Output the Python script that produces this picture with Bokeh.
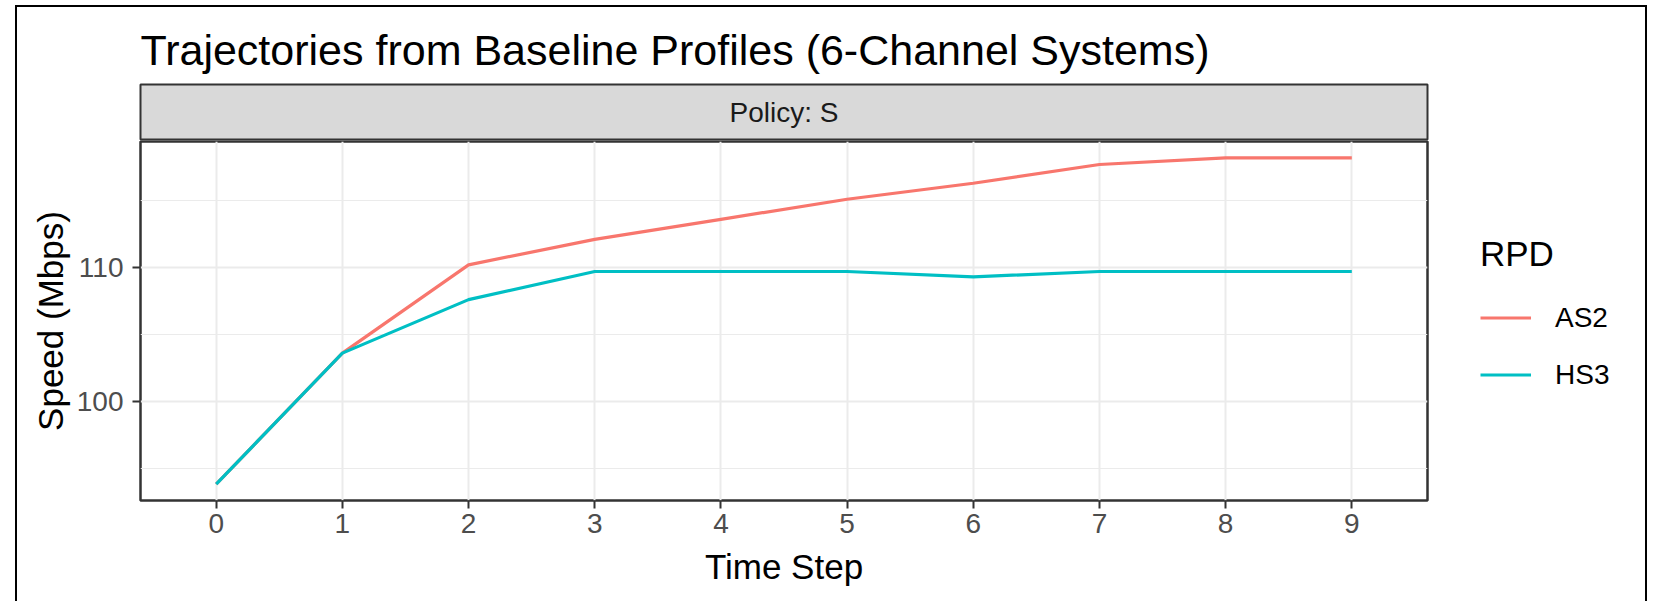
from bokeh.plotting import figure
from bokeh.layouts import column
from bokeh.models import (FixedTicker, Label, Legend, LegendItem, Range1d,
                          ColumnDataSource)
from bokeh.embed import file_html
from bokeh.resources import INLINE

# ---- data -------------------------------------------------------------
steps = [0, 1, 2, 3, 4, 5, 6, 7, 8, 9]
as2_speed = [93.8, 103.6, 110.2, 112.1, 113.6, 115.1, 116.3, 117.7, 118.2, 118.2]
hs3_speed = [93.8, 103.6, 107.6, 109.7, 109.7, 109.7, 109.3, 109.7, 109.7, 109.7]
series_names = ["AS2", "HS3"]
series_colors = ["#F8766D", "#00BFC4"]
x_ticks = steps
y_major_ticks = [100, 110]
y_minor_ticks = [95, 105, 115]

title_text = "Trajectories from Baseline Profiles (6-Channel Systems)"
strip_text = "Policy: S"
legend_title = "RPD"

FONT = "Liberation Sans"

# y limits with 5% padding around the data; discrete-style padding on x
all_vals = as2_speed + hs3_speed
span = max(all_vals) - min(all_vals)
y_lo = min(all_vals) - 0.05 * span
y_hi = max(all_vals) + 0.05 * span
x_range = Range1d(min(steps) - 0.6, max(steps) + 0.6)

W = 1657
ML, MR = 140, 230
FRAME_W = W - ML - MR

# ---- title + facet strip ------------------------------------------------
top = figure(frame_width=FRAME_W, frame_height=56,
             output_backend="svg", toolbar_location=None,
             x_range=x_range, y_range=Range1d(0, 1),
             x_axis_type=None, y_axis_type=None,
             min_border_left=ML, min_border_right=MR,
             min_border_top=84, min_border_bottom=0)
top.grid.visible = False
top.background_fill_color = "#D9D9D9"
top.border_fill_color = None
top.outline_line_color = "#333333"
top.outline_line_width = 2
top.title.text = title_text
top.title.align = "left"
top.title.text_font = FONT
top.title.text_font_size = "43px"
top.title.text_font_style = "normal"
top.title.text_color = "black"
top.title.standoff = 22
top.title.offset = 0
top.add_layout(Label(x=(min(steps) + max(steps)) / 2, y=0.5, text=strip_text,
                     text_font=FONT, text_font_size="28px", text_color="#1A1A1A",
                     text_align="center", text_baseline="middle"))

# ---- main panel ---------------------------------------------------------
p = figure(frame_width=FRAME_W, frame_height=359,
           output_backend="svg", toolbar_location=None,
           x_range=x_range, y_range=Range1d(y_lo, y_hi),
           min_border_left=ML, min_border_right=MR,
           min_border_top=1, min_border_bottom=101)
p.background_fill_color = "white"
p.border_fill_color = None
p.outline_line_color = "#333333"
p.outline_line_width = 2.5

# grid
p.xgrid.ticker = FixedTicker(ticks=x_ticks)
p.ygrid.ticker = FixedTicker(ticks=y_major_ticks, minor_ticks=y_minor_ticks)
for g in (p.xgrid, p.ygrid):
    g.grid_line_color = "#EBEBEB"
    g.grid_line_width = 2
p.ygrid.minor_grid_line_color = "#EBEBEB"
p.ygrid.minor_grid_line_width = 1.2

# axes
p.xaxis.ticker = FixedTicker(ticks=x_ticks)
p.yaxis.ticker = FixedTicker(ticks=y_major_ticks, minor_ticks=y_minor_ticks)
for ax in (p.xaxis, p.yaxis):
    ax.axis_line_color = None
    ax.major_tick_line_color = "#333333"
    ax.major_tick_line_width = 2
    ax.major_tick_out = 8
    ax.major_tick_in = 0
    ax.minor_tick_line_color = None
    ax.major_label_text_font = FONT
    ax.major_label_text_font_size = "28px"
    ax.major_label_text_color = "#4D4D4D"
    ax.axis_label_text_font = FONT
    ax.axis_label_text_font_size = "35px"
    ax.axis_label_text_font_style = "normal"
    ax.axis_label_text_color = "black"
p.xaxis.axis_label = "Time Step"
p.yaxis.axis_label = "Speed (Mbps)"
p.xaxis.major_label_standoff = 5
p.xaxis.axis_label_standoff = 11
p.yaxis.major_label_standoff = 9
p.yaxis.axis_label_standoff = 4

# lines
renderers = []
for name, vals, col in zip(series_names, [as2_speed, hs3_speed], series_colors):
    src = ColumnDataSource(dict(x=steps, y=vals))
    renderers.append(p.line("x", "y", source=src, line_color=col, line_width=3.2))

# legend in the right-hand margin
legend = Legend(items=[LegendItem(label=n, renderers=[r]) for n, r in zip(series_names, renderers)],
                location=(53, 97), orientation="vertical",
                title=legend_title, title_text_font=FONT, title_text_font_size="35px",
                title_text_font_style="normal", title_text_color="black",
                title_standoff=15,
                border_line_color=None, background_fill_alpha=0,
                padding=0, margin=0, spacing=0,
                glyph_width=51, glyph_height=57, label_height=57,
                label_standoff=24, label_text_font=FONT,
                label_text_font_size="28px", label_text_color="black")
p.add_layout(legend, "right")

# outer frame around the whole figure, painted behind the transparent canvases
frame_css = ("linear-gradient(#000,#000) 15px 5px / 2px 800px no-repeat, "
             "linear-gradient(#000,#000) 15px 5px / 1632px 2px no-repeat, "
             "linear-gradient(#000,#000) 1645px 5px / 2px 800px no-repeat, #ffffff")
layout = column(top, p, spacing=0, styles={"background": frame_css})

open("out.html", "w").write(file_html(layout, INLINE))
